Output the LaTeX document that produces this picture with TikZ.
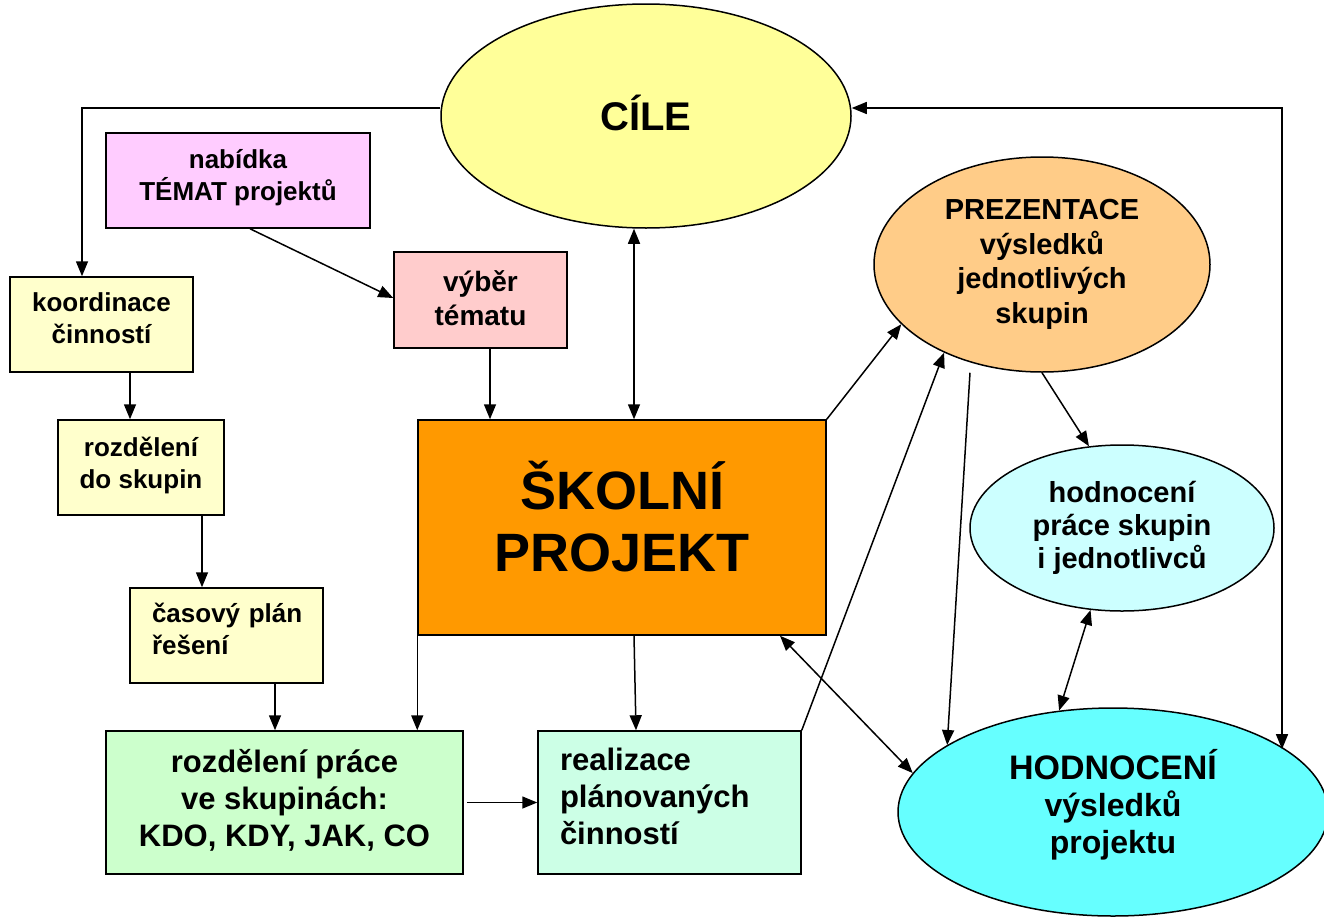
\documentclass[tikz,border=0pt]{standalone}
\usepackage{fontspec}
\setmainfont{Liberation Sans}
\usetikzlibrary{shapes.geometric,arrows.meta}

\definecolor{cCile}{HTML}{FFFF99}
\definecolor{cNab}{HTML}{FFCCFF}
\definecolor{cPale}{HTML}{FFFFCC}
\definecolor{cVyber}{HTML}{FFCCCC}
\definecolor{cSkol}{HTML}{FF9900}
\definecolor{cPrez}{HTML}{FFCC88}
\definecolor{cHodPr}{HTML}{CCFFFF}
\definecolor{cHod}{HTML}{66FFFF}
\definecolor{cRozPr}{HTML}{CCFFCC}
\definecolor{cReal}{HTML}{CCFFE6}

\begin{document}
\begin{tikzpicture}[x=1pt,y=-1pt,
  box/.style={draw, line width=1.5pt, inner sep=0pt, align=center},
  oval/.style={draw, ellipse, line width=1.5pt, inner sep=0pt, align=center},
  fa/.style={font=\fontsize{26}{32}\selectfont\bfseries},
  fb/.style={font=\fontsize{28}{34}\selectfont\bfseries},
  fc/.style={font=\fontsize{29}{33}\selectfont\bfseries},
  fd/.style={font=\fontsize{31}{37}\selectfont\bfseries},
  tip/.tip={Triangle[length=15pt,width=12pt]},
  arr/.style={line width=1.5pt, -tip},
  dbl/.style={line width=1.5pt, tip-tip},
]
\useasboundingbox (0,0) rectangle (1324,918);

% ellipses
\node[oval, fill=cCile, minimum width=410pt, minimum height=224pt, text depth=6pt,
      font=\fontsize{40}{46}\selectfont\bfseries] (cile) at (646,116) {CÍLE};
\node[oval, fill=cPrez, minimum width=336pt, minimum height=215pt,
      font=\fontsize{29}{34.5}\selectfont\bfseries] (prez) at (1042,264.5)
      {PREZENTACE\\výsledků\\jednotlivých\\skupin};
\node[oval, fill=cHodPr, minimum width=304pt, minimum height=166pt, fc] (hodpr)
      at (1122,528) {hodnocení\\práce skupin\\i jednotlivců};
\node[oval, fill=cHod, minimum width=430pt, minimum height=208pt, text depth=21pt,
      font=\fontsize{32}{37}\selectfont\bfseries] (hod) at (1113,812)
      {{\fontsize{34}{37}\selectfont HODNOCENÍ}\\výsledků\\projektu};

% boxes
\node[box, fill=cNab, minimum width=264pt, minimum height=95pt, text depth=11pt, fa] (nab)
      at (238,180.5) {nabídka\\TÉMAT projektů};
\node[box, fill=cPale, minimum width=183pt, minimum height=95pt, text depth=12pt, fa] (koord)
      at (101.5,324.5) {koordinace\\činností};
\node[box, fill=cPale, minimum width=166pt, minimum height=95pt, text depth=10pt, fa] (rozd)
      at (141,467.5) {rozdělení\\do skupin};
\node[box, fill=cPale, inner xsep=22pt, text width=149pt, minimum height=95pt,
      text depth=46pt, align=left, fa] (cas) at (226.5,635.5) {\mbox{časový plán}\\řešení};
\node[box, fill=cVyber, minimum width=173pt, minimum height=96pt, text depth=4pt, fb] (vyber)
      at (480.5,300) {výběr\\tématu};
\node[box, fill=cSkol, minimum width=408pt, minimum height=215pt, text depth=22pt,
      font=\fontsize{54}{62}\selectfont\bfseries] (skol) at (622,527.5)
      {ŠKOLNÍ\\PROJEKT};
\node[box, fill=cRozPr, minimum width=357pt, minimum height=143pt, text depth=10pt, fd] (rozpr)
      at (284.5,802.5) {rozdělení práce\\ve skupinách:\\KDO, KDY, JAK, CO};
\node[box, fill=cReal, inner xsep=22pt, text width=219pt, minimum height=143pt,
      text depth=86pt, align=left, fd] (real) at (669.5,802.5)
      {realizace\\plánovaných\\činností};

% connectors
\coordinate (tl) at (82,108);
\coordinate (tr) at (1282,108);
\draw[arr] (cile.west |- tl) -- (tl) -- (koord.north -| tl);
\draw[dbl] (cile.east |- tr) -- (tr) -- (tr |- hod.20.7);
\draw[arr] (nab.south -| 250,0) -- (vyber.west |- 0,298);
\draw[arr] (vyber.south -| 490,0) -- (skol.north -| 490,0);
\draw[dbl] (cile.south -| 634,0) -- (skol.north -| 634,0);
\draw[arr] (koord.south -| 130,0) -- (rozd.north -| 130,0);
\draw[arr] (rozd.south -| 202,0) -- (cas.north -| 202,0);
\draw[arr] (cas.south -| 275,0) -- (rozpr.north -| 275,0);
\draw[arr] (skol.south west) -- (rozpr.north -| skol.south west);
\draw[arr] (skol.south -| 634,0) -- (real.north -| 636,0);
\draw[arr] ([xshift=3pt]rozpr.east) -- (real.west);
\draw[arr] (skol.north east) -- (prez.203);
\draw[arr] (real.north east) -- (prez.222);
\draw[arr] (prez.south -| 970,0) -- (hod.158);
\draw[arr] (prez.south) -- (hodpr.112);
\draw[dbl] (hodpr.249) -- (hod.118);
\draw[dbl] (skol.south -| 780,0) -- (hod.169);
\end{tikzpicture}
\end{document}
